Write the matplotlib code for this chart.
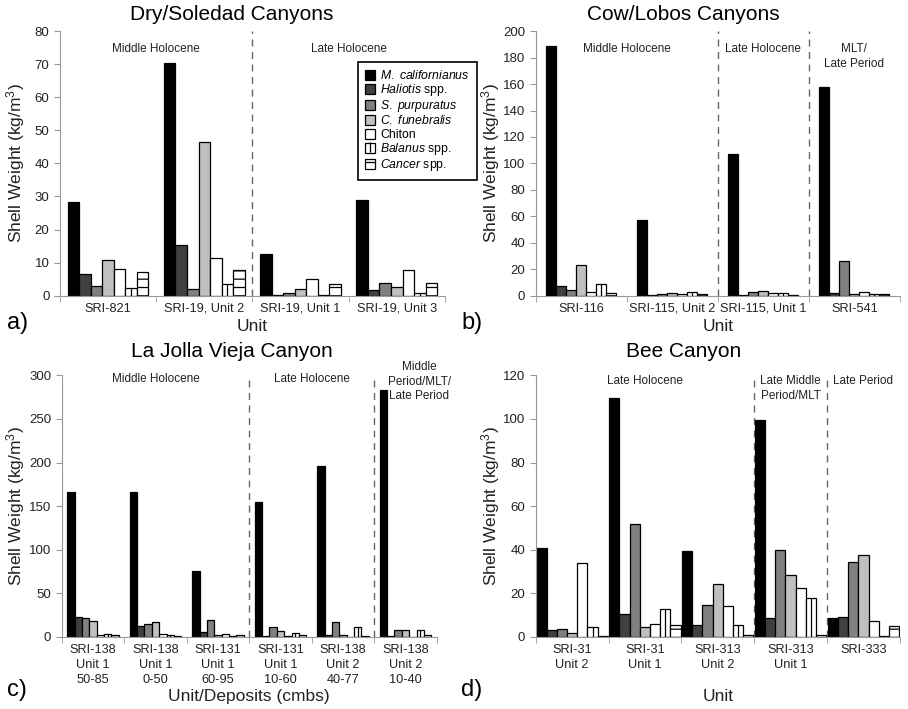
import matplotlib.pyplot as plt
import numpy as np
from matplotlib.patches import Patch, Rectangle
from matplotlib.lines import Line2D
from matplotlib.legend_handler import HandlerPatch

plt.rcParams['font.family'] = ['Liberation Sans', 'DejaVu Sans']
plt.rcParams['mathtext.fontset'] = 'custom'
plt.rcParams['mathtext.rm'] = 'Liberation Sans'
plt.rcParams['mathtext.it'] = 'Liberation Sans:italic'
plt.rcParams['hatch.linewidth'] = 0.9

# species, in bar order
species = [r'$\it{M.\ californianus}$', r'$\it{Haliotis}$ spp.', r'$\it{S.\ purpuratus}$',
           r'$\it{C.\ funebralis}$', 'Chiton', r'$\it{Balanus}$ spp.', r'$\it{Cancer}$ spp.']
colors = ['black', '#404040', '#808080', '#c0c0c0', 'white', 'white', 'white']

# a) Dry/Soledad Canyons - rows are units, columns are species
a_units = ['SRI-821', 'SRI-19, Unit 2', 'SRI-19, Unit 1', 'SRI-19, Unit 3']
a_weights = [
    [28.4, 6.5, 2.9, 10.8, 8.2, 2.2, 7.3],
    [70.5, 15.3, 1.9, 46.6, 11.4, 3.5, 7.7],
    [12.6, 0.3, 0.8, 1.9, 5.1, 0.2, 3.5],
    [28.9, 1.7, 3.9, 2.7, 7.9, 0.8, 3.7],
]
a_eras = [('Middle Holocene', 0, 1), ('Late Holocene', 2, 3)]

# b) Cow/Lobos Canyons
b_units = ['SRI-116', 'SRI-115, Unit 2', 'SRI-115, Unit 1', 'SRI-541']
b_weights = [
    [188.5, 7.0, 4.0, 23.5, 3.0, 9.0, 2.3],
    [57.4, 0.3, 1.0, 2.0, 1.5, 3.0, 1.0],
    [107.0, 0.3, 3.0, 3.5, 2.0, 2.0, 0.5],
    [158.0, 2.0, 26.5, 1.5, 2.5, 1.3, 1.0],
]
b_eras = [('Middle Holocene', 0, 1), ('Late Holocene', 2, 2), ('MLT/\nLate Period', 3, 3)]

# c) La Jolla Vieja Canyon
c_units = ['SRI-138\nUnit 1\n50-85', 'SRI-138\nUnit 1\n0-50', 'SRI-131\nUnit 1\n60-95',
           'SRI-131\nUnit 1\n10-60', 'SRI-138\nUnit 2\n40-77', 'SRI-138\nUnit 2\n10-40']
c_weights = [
    [165.8, 23.2, 21.3, 18.3, 2.7, 3.4, 2.3],
    [165.8, 13.0, 15.2, 17.5, 3.4, 2.7, 1.5],
    [75.8, 5.3, 19.8, 2.3, 3.4, 1.5, 2.3],
    [155.0, 1.1, 11.0, 7.2, 0.8, 4.2, 1.9],
    [196.0, 2.7, 16.8, 2.7, 0.0, 11.8, 0.8],
    [282.8, 1.1, 8.0, 7.6, 0.0, 8.4, 1.9],
]
c_eras = [('Middle Holocene', 0, 2), ('Late Holocene', 3, 4),
          ('Middle\nPeriod/MLT/\nLate Period', 5.22, 5.22)]

# d) Bee Canyon
d_units = ['SRI-31\nUnit 2', 'SRI-31\nUnit 1', 'SRI-313\nUnit 2', 'SRI-313\nUnit 1', 'SRI-333']
d_weights = [
    [40.8, 3.0, 3.8, 1.7, 34.0, 4.6, 0.3],
    [109.5, 10.7, 51.8, 4.6, 5.8, 12.8, 5.5],
    [39.3, 5.3, 14.5, 24.1, 14.2, 5.5, 1.1],
    [99.5, 8.8, 39.8, 28.5, 22.5, 18.0, 0.8],
    [8.5, 9.0, 34.6, 37.6, 7.3, 0.6, 4.9],
]
d_eras = [('Late Holocene', 0, 2), ('Late Middle\nPeriod/MLT', 3, 3), ('Late Period', 4, 4)]

fig = plt.figure(figsize=(9.08, 7.09), dpi=100)


def panel(rect, units, weights, eras, ymax, ystep, width, era_y, tall_y=None):
    ax = fig.add_axes(rect)
    vals = np.array(weights)
    x = np.arange(len(units))
    for i in range(len(species)):
        pos = x + (i - 3) * width
        ax.bar(pos, vals[:, i], width=width, color=colors[i], edgecolor='black',
               linewidth=0.9, hatch='--' if i == 6 else None, zorder=2)
        if i == 5:
            ax.vlines(pos, 0, vals[:, i], color='black', lw=0.9, zorder=3)
    ax.set_xlim(-0.5, len(units) - 0.5)
    ax.set_ylim(0, ymax)
    ax.set_yticks(np.arange(0, ymax + 1, ystep))
    ax.set_xticks(x)
    ax.set_xticklabels(units, fontsize=9.2, color='#222', linespacing=1.35)
    ax.set_xticks(np.arange(-0.5, len(units)), minor=True)
    ax.tick_params(axis='x', which='major', length=0, pad=5)
    ax.tick_params(axis='x', which='minor', length=4, color='#999')
    ax.tick_params(axis='y', length=4, color='#999', labelsize=9.5, labelcolor='#222')
    for s in ['top', 'right']:
        ax.spines[s].set_visible(False)
    for s in ['left', 'bottom']:
        ax.spines[s].set_color('#999')
    for k, (name, start, end) in enumerate(eras):
        y = tall_y if (tall_y is not None and name.count('\n') >= 2) else era_y
        ax.text((start + end) / 2, y, name, transform=ax.get_xaxis_transform(),
                ha='center', va='top', fontsize=8.5, color='#222', linespacing=1.3)
        if k > 0:
            ax.axvline(int(round(start)) - 0.5, color='#666', lw=1, ls=(0, (5, 4)), zorder=1)
    ax.set_ylabel('Shell Weight (kg/m$^3$)', fontsize=12.5, color='#222')
    return ax


ax_a = panel([0.066, 0.583, 0.424, 0.373], a_units, a_weights, a_eras, 80, 10, 0.12, 0.955)
ax_b = panel([0.590, 0.583, 0.401, 0.373], b_units, b_weights, b_eras, 200, 20, 0.11, 0.955)
ax_c = panel([0.068, 0.1016, 0.413, 0.369], c_units, c_weights, c_eras, 300, 50, 0.118, 1.01, 1.055)
ax_d = panel([0.590, 0.1016, 0.401, 0.369], d_units, d_weights, d_eras, 120, 20, 0.14, 1.0)

ax_a.yaxis.set_label_coords(-0.086, 0.5)
ax_b.yaxis.set_label_coords(-0.092, 0.5)
ax_c.yaxis.set_label_coords(-0.093, 0.5)
ax_d.yaxis.set_label_coords(-0.092, 0.5)
for ax in [ax_a, ax_b]:
    ax.set_xlabel('Unit', fontsize=12.5, color='#222')
    ax.xaxis.set_label_coords(0.5, -0.09)
ax_c.set_xlabel('Unit/Deposits (cmbs)', fontsize=12.5, color='#222')
ax_d.set_xlabel('Unit', fontsize=12.5, color='#222')
for ax in [ax_c, ax_d]:
    ax.xaxis.set_label_coords(0.5, -0.2)

# titles and panel letters
fig.text(0.255, 0.979, 'Dry/Soledad Canyons', ha='center', va='center', fontsize=15)
fig.text(0.753, 0.979, 'Cow/Lobos Canyons', ha='center', va='center', fontsize=15)
fig.text(0.255, 0.504, 'La Jolla Vieja Canyon', ha='center', va='center', fontsize=15)
fig.text(0.753, 0.504, 'Bee Canyon', ha='center', va='center', fontsize=15)
for lx, ly, lab in [(0.008, 0.545, 'a)'), (0.508, 0.545, 'b)'),
                    (0.008, 0.027, 'c)'), (0.508, 0.027, 'd)')]:
    fig.text(lx, ly, lab, ha='left', va='center', fontsize=17)


# small square swatch centred in a taller handle box so rows stay even
def square_swatch(legend, orig_handle, xdescent, ydescent, width, height, fontsize):
    s = 0.8 * fontsize
    return Rectangle((-xdescent + (width - s) / 2, -ydescent + (height - s) / 2), s, s)


handles = []
for i in range(len(species)):
    p = Patch(facecolor=colors[i], edgecolor='black', linewidth=0.9,
              hatch='--' if i == 6 else None)
    if i == 5:
        p = (p, Line2D([], [], marker='|', color='black', markersize=7.2,
                       markeredgewidth=0.9, linestyle='None'))
    handles.append(p)
leg = fig.legend(handles, species, loc='upper right', bbox_to_anchor=(0.525, 0.9126),
                 fontsize=8.8, handlelength=0.85, handleheight=1.2, handletextpad=0.45,
                 labelspacing=0.0, borderpad=0.55, borderaxespad=0, fancybox=False,
                 framealpha=1, handler_map={Patch: HandlerPatch(patch_func=square_swatch)})
leg.get_frame().set_edgecolor('black')
leg.get_frame().set_linewidth(1.2)

fig.savefig('out.png', dpi=100)
